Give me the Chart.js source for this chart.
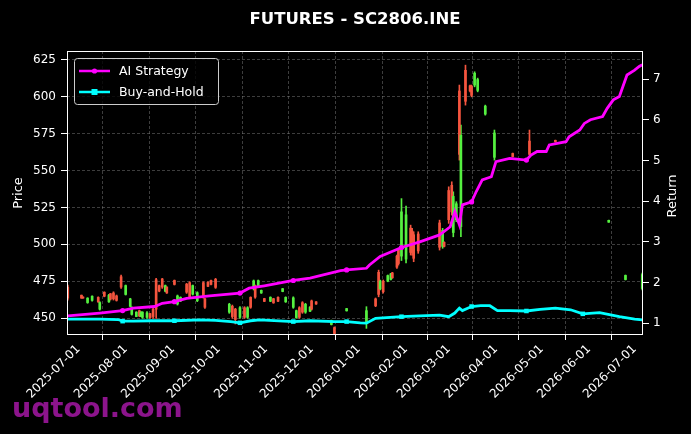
<!DOCTYPE html>
<html>
<head>
<meta charset="utf-8">
<script src="https://cdn.jsdelivr.net/npm/chart.js@4.4.1/dist/chart.umd.min.js"></script>
<style>
  html, body { margin: 0; padding: 0; background: #000; }
  #wrap { width: 691px; height: 434px; }
</style>
</head>
<body>
<div id="wrap"><canvas id="chart" width="691" height="434"></canvas></div>
<script>
// x values are days counted from 2025-07-01
const tickDays = [0, 31, 62, 92, 123, 153, 184, 215, 243, 274, 304, 335, 365];
const tickLabels = ['2025-07-01', '2025-08-01', '2025-09-01', '2025-10-01', '2025-11-01', '2025-12-01',
  '2026-01-01', '2026-02-01', '2026-03-01', '2026-04-01', '2026-05-01', '2026-06-01', '2026-07-01'];
const priceTicks = [450, 475, 500, 525, 550, 575, 600, 625];
const returnTicks = [1, 2, 3, 4, 5, 6, 7];

// daily candles (only days with trades)
const candleDays = [-7, 2, 3, 6, 9, 13, 14, 17, 20, 21, 23, 25, 28, 31, 34, 35, 38, 40, 41, 42,
  45, 47, 49, 51, 53, 55, 57, 58, 63, 65, 67, 71, 73, 75, 78, 82, 83, 85, 87, 90,
  99, 101, 103, 106, 109, 111, 113, 115, 116, 118, 120, 122, 126, 128, 131, 134, 136, 141, 143, 145,
  147, 149, 152, 153, 156, 166, 168, 176, 189, 195, 197, 198, 200, 203, 205, 206, 209, 210, 212, 215,
  218, 219, 220, 223, 237, 239, 240, 243, 245, 246, 248, 250, 251, 254, 257, 258, 260, 262, 267, 273,
  285, 296, 313, 348, 359, 370];
const candleOpen = [471, 465.5, 464.3, 460.5, 462, 464, 456, 467.5, 461, 466.5, 467, 465, 478, 466, 458, 452.5, 451, 455, 451.2, 450.5,
  450.5, 453, 456, 476, 472, 476.5, 468.2, 471, 475.5, 459.5, 461.5, 473, 474, 466.2, 461.8, 474, 463, 474.3, 475.5, 476.3,
  454, 458, 456, 450.5, 457, 450.5, 464, 469.7, 472, 471.6, 467, 463.2, 461.4, 463.1, 464.1, 468, 461, 457.3, 450.3, 457,
  460.4, 454, 454.6, 461.6, 461, 445.6, 443.5, 454.9, 447, 463, 481, 469.7, 475, 475, 476.2, 480.6, 492, 496.5, 492, 490,
  511, 509, 506.5, 507, 514.5, 498.6, 501.4, 536.5, 540, 508, 516.6, 604, 512, 618, 607.5, 607, 608, 604.4, 588.3, 559,
  561.6, 570, 570.5, 515, 476.1, 470];
const candleHigh = [472.4, 465.6, 464.4, 463.8, 465.1, 464.4, 461.1, 467.8, 466.1, 466.7, 467.8, 465.6, 479.2, 472.4, 463.4, 457.7, 454.3, 455.4, 454.3, 454.3,
  454.3, 453.2, 456.6, 476.9, 472.4, 476.9, 472.4, 471.2, 475.8, 465.6, 464.4, 473.5, 474.6, 472.4, 467.8, 474.6, 463.4, 474.6, 475.8, 476.9,
  460, 458.8, 456.6, 457.7, 457.7, 457.7, 464.4, 475.8, 472.4, 475.8, 469, 463.4, 464.4, 463.4, 464.4, 470.1, 464.4, 464.4, 455.4, 457.7,
  461.1, 460, 457.7, 462.2, 461.1, 448.6, 444, 456.6, 457.7, 463.6, 482.5, 475.8, 475.8, 479.2, 480.3, 481, 492.7, 497.3, 531, 526,
  513, 510.8, 508.5, 508.5, 516.4, 510.8, 501.7, 539, 542.4, 535.6, 528.9, 608, 580.9, 621.5, 608, 608, 617, 612.7, 594.4, 577.5,
  561.9, 577.5, 570.7, 516.4, 479.2, 480.5];
const candleLow = [462.2, 463.4, 463.4, 460, 461.5, 460.6, 455.4, 464.4, 460.6, 462.2, 462.2, 461.5, 470.1, 465.6, 457.7, 452, 450.9, 450.9, 450.9, 449.8,
  449.8, 449.8, 449.8, 449.8, 467.8, 470.1, 467.8, 466.7, 472.4, 458.8, 461.1, 466.7, 463.4, 465.6, 461.1, 463.4, 456.6, 471.2, 472.4, 470.1,
  453.2, 449.8, 446, 449.8, 449.8, 449.8, 456.6, 469, 463.4, 471.2, 466.7, 461.1, 461.1, 460, 461.1, 467.8, 460.6, 456.6, 449.8, 449.8,
  453.2, 453.2, 454.3, 455.4, 459.3, 445.3, 438, 454.7, 443, 457.7, 464.4, 469, 466.9, 474.6, 475.8, 476.9, 483.7, 485.9, 489, 487.3,
  492.7, 492.7, 488.2, 493.9, 496.1, 497.3, 498.3, 514.2, 519.8, 505.1, 515.3, 557.1, 505.1, 594.4, 603.4, 600, 606.8, 603.4, 587.6, 557.1,
  559.2, 560.5, 569.3, 514.9, 475.8, 469];
const candleClose = [463.5, 463.5, 463.5, 463.5, 464.8, 461, 460.5, 464.8, 465.5, 462.8, 463, 462, 471, 472, 463, 457, 454, 451.5, 454, 454,
  453.5, 450.2, 451, 456, 468.3, 471, 472, 467, 472.8, 465, 464, 467.5, 464.5, 472, 467.2, 464.5, 457.3, 471.5, 472.8, 470.8,
  459.3, 451, 449, 457, 450.5, 457, 457.3, 475.2, 464.2, 475.4, 468.8, 461.3, 464.1, 460.3, 461.4, 469.9, 464, 463.7, 455, 450.5,
  454, 459.3, 457.4, 456, 459.5, 448.3, 439.5, 456.4, 455, 458.3, 466, 475.2, 467.8, 478.8, 480, 477.3, 484.5, 487, 522, 520,
  494.5, 494.5, 490.5, 495.5, 498, 509.5, 498.6, 516.7, 522, 532.5, 527.5, 561, 574, 597, 604, 601, 616, 611.7, 593.7, 575.5,
  559.5, 561, 569.5, 516.3, 478.9, 479.5];

// cumulative returns
const aiDays = [-7, 14, 29, 36, 50, 55, 63, 71, 86, 106, 112, 122, 141, 152, 172, 176, 189, 191, 198, 212,
  224, 237, 244, 247, 250, 252, 258, 261, 265, 271, 274, 283, 294, 297, 301, 307, 309, 320, 322, 329,
  332, 336, 344, 347, 351, 355, 360, 365, 368, 370];
const aiReturn = [1.18, 1.25, 1.31, 1.37, 1.41, 1.49, 1.53, 1.61, 1.67, 1.74, 1.86, 1.92, 2.05, 2.11, 2.29, 2.31, 2.35, 2.43, 2.64, 2.86,
  3.0, 3.17, 3.37, 3.74, 3.42, 3.91, 3.98, 4.23, 4.52, 4.60, 4.97, 5.05, 5.01, 5.13, 5.22, 5.22, 5.38, 5.46, 5.58, 5.75,
  5.91, 6.0, 6.08, 6.28, 6.49, 6.57, 7.1, 7.22, 7.31, 7.35];
const bhDays = [-7, 14, 26, 29, 36, 47, 63, 80, 90, 100, 106, 113, 119, 141, 152, 168, 176, 185, 189, 195,
  212, 224, 237, 243, 247, 250, 252, 258, 264, 270, 275, 283, 294, 303, 313, 323, 331, 342, 355, 365, 370];
const bhReturn = [1.10, 1.10, 1.09, 1.05, 1.05, 1.06, 1.06, 1.08, 1.07, 1.04, 1.01, 1.06, 1.08, 1.04, 1.06, 1.04, 1.04, 1.01, 1.0, 1.12,
  1.16, 1.18, 1.20, 1.16, 1.25, 1.37, 1.31, 1.41, 1.43, 1.43, 1.31, 1.31, 1.30, 1.34, 1.37, 1.33, 1.23, 1.26, 1.16, 1.10, 1.08];
const markerDays = [29, 63, 106, 141, 176, 212, 258, 294, 331];

Chart.defaults.font.family = "'DejaVu Sans', sans-serif";
Chart.defaults.color = '#ffffff';

const upColor = '#55f040';
const downColor = '#f5553f';
const gridColor = 'rgba(140,140,140,0.55)';

const candleColor = ctx => candleClose[ctx.dataIndex] >= candleOpen[ctx.dataIndex] ? upColor : downColor;
const wickData = candleDays.map((d, i) => ({ x: d, y: [candleLow[i], candleHigh[i]] }));
const bodyData = candleDays.map((d, i) => ({ x: d, y: [Math.min(candleOpen[i], candleClose[i]), Math.max(candleOpen[i], candleClose[i])] }));
const aiData = aiDays.map((d, i) => ({ x: d, y: aiReturn[i] }));
const bhData = bhDays.map((d, i) => ({ x: d, y: bhReturn[i] }));
const markerSize = r => ctx => (ctx.raw && markerDays.includes(ctx.raw.x)) ? r : 0;

const decor = {
  id: 'decor',
  beforeDraw(chart) {
    const c = chart.ctx;
    c.save();
    c.fillStyle = '#000';
    c.fillRect(0, 0, chart.width, chart.height);
    c.fillStyle = '#8c148c';
    c.font = "bold 27px 'DejaVu Sans'";
    c.textAlign = 'left';
    c.textBaseline = 'alphabetic';
    c.fillText('uqtool.com', 12, 417);
    c.restore();
  },
  afterDraw(chart) {
    const c = chart.ctx;
    const a = chart.chartArea;
    c.save();
    c.strokeStyle = '#ffffff';
    c.lineWidth = 1;
    c.strokeRect(a.left + 0.5, a.top + 0.5, a.right - a.left - 1, a.bottom - a.top - 1);

    // title
    c.fillStyle = '#ffffff';
    c.font = "bold 16.5px 'DejaVu Sans'";
    c.textAlign = 'center';
    c.textBaseline = 'alphabetic';
    c.fillText('FUTURES - SC2806.INE', (a.left + a.right) / 2, 24);

    // right axis title, reading upward like the left one
    c.save();
    c.translate(673, (a.top + a.bottom) / 2 + 3);
    c.rotate(-Math.PI / 2);
    c.font = "13px 'DejaVu Sans'";
    c.textBaseline = 'middle';
    c.fillText('Return', 0, 0);
    c.restore();

    // legend
    const bx = a.left + 7, by = a.top + 7, bw = 144, bh = 46;
    c.beginPath();
    c.roundRect(bx + 0.5, by + 0.5, bw, bh, 3);
    c.fillStyle = 'rgba(0,0,0,0.8)';
    c.fill();
    c.strokeStyle = '#cccccc';
    c.stroke();
    const items = [
      { text: 'AI Strategy', color: '#ff00ff', style: 'circle' },
      { text: 'Buy-and-Hold', color: '#00ffff', style: 'rect' }
    ];
    items.forEach((it, k) => {
      const y = by + 13 + k * 21;
      c.strokeStyle = it.color;
      c.lineWidth = 2.5;
      c.beginPath();
      c.moveTo(bx + 5, y);
      c.lineTo(bx + 36, y);
      c.stroke();
      c.fillStyle = it.color;
      if (it.style === 'circle') {
        c.beginPath();
        c.arc(bx + 20.5, y, 2.6, 0, Math.PI * 2);
        c.fill();
      } else {
        c.fillRect(bx + 17.5, y - 3, 6, 6);
      }
      c.fillStyle = '#ffffff';
      c.font = "12.5px 'DejaVu Sans'";
      c.textAlign = 'left';
      c.textBaseline = 'middle';
      c.fillText(it.text, bx + 45, y + 0.5);
    });
    c.restore();
  }
};

new Chart(document.getElementById('chart'), {
  type: 'bar',
  data: {
    datasets: [
      {
        type: 'line', label: 'AI Strategy', data: aiData, yAxisID: 'y2',
        borderColor: '#ff00ff', backgroundColor: '#ff00ff', borderWidth: 2.8,
        pointRadius: markerSize(2.6), pointHoverRadius: 0, pointBorderWidth: 0,
        pointStyle: 'circle', tension: 0, order: 0
      },
      {
        type: 'line', label: 'Buy-and-Hold', data: bhData, yAxisID: 'y2',
        borderColor: '#00ffff', backgroundColor: '#00ffff', borderWidth: 2.8,
        pointRadius: markerSize(3.2), pointHoverRadius: 0, pointBorderWidth: 0,
        pointStyle: 'rect', tension: 0, order: 0
      },
      {
        type: 'bar', label: 'body', data: bodyData, yAxisID: 'y',
        backgroundColor: candleColor, barThickness: 2, minBarLength: 1,
        grouped: false, order: 1
      },
      {
        type: 'bar', label: 'range', data: wickData, yAxisID: 'y',
        backgroundColor: candleColor, barThickness: 1, grouped: false, order: 2
      }
    ]
  },
  options: {
    responsive: false,
    animation: false,
    events: [],
    layout: { padding: { top: 51, left: 0, right: 0, bottom: 0 } },
    plugins: { legend: { display: false }, tooltip: { enabled: false } },
    scales: {
      x: {
        type: 'linear', min: -7.5, max: 370.5, offset: false,
        afterBuildTicks: s => { s.ticks = tickDays.map(v => ({ value: v })); },
        afterFit: s => { s.height = 99; },
        ticks: {
          color: '#ffffff', font: { size: 12 }, autoSkip: false, maxRotation: 45, minRotation: 45, padding: 2,
          callback: v => { const k = tickDays.indexOf(v); return k >= 0 ? tickLabels[k] : ''; }
        },
        grid: { color: gridColor, lineWidth: 0.8, tickColor: '#ffffff', tickLength: 5, tickWidth: 1 },
        border: { display: false, dash: [3, 2] }
      },
      y: {
        type: 'linear', position: 'left', min: 438.5, max: 631.1,
        afterBuildTicks: s => { s.ticks = priceTicks.map(v => ({ value: v })); },
        afterFit: s => { s.width = 67; },
        title: { display: true, text: 'Price', color: '#ffffff', font: { size: 13 }, padding: { top: 11, bottom: 0 } },
        ticks: { color: '#ffffff', font: { size: 12 }, padding: 5 },
        grid: { color: gridColor, lineWidth: 0.8, tickColor: '#ffffff', tickLength: 6, tickWidth: 1 },
        border: { display: false, dash: [3, 2] }
      },
      y2: {
        type: 'linear', position: 'right', min: 0.71, max: 7.69,
        afterBuildTicks: s => { s.ticks = returnTicks.map(v => ({ value: v })); },
        afterFit: s => { s.width = 48; },
        ticks: { color: '#ffffff', font: { size: 12 }, padding: 4 },
        grid: { drawOnChartArea: false, tickColor: '#ffffff', tickLength: 6, tickWidth: 1 },
        border: { display: false }
      }
    }
  },
  plugins: [decor]
});
</script>
</body>
</html>
